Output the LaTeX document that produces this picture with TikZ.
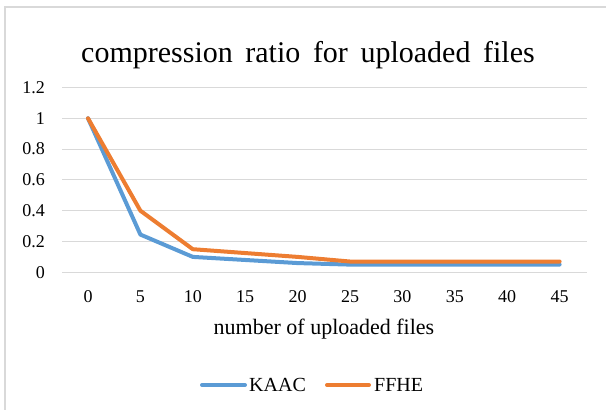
\documentclass[tikz,border=0pt]{standalone}
\usepackage{fontspec}
\setmainfont{Liberation Serif}
\definecolor{kaac}{HTML}{5B9BD5}
\definecolor{ffhe}{HTML}{ED7D31}
\definecolor{gridc}{HTML}{D9D9D9}
\begin{document}
\begin{tikzpicture}[x=1pt,y=-1pt,
  gridline/.style={draw=gridc,line width=1pt},
  frameline/.style={draw=gridc,line width=2pt},
  serie/.style={line width=4pt,line join=round,line cap=round},
  ticklab/.style={font=\fontsize{18}{18}\selectfont,inner sep=0pt},
  axlab/.style={font=\fontsize{22}{22}\selectfont,inner sep=0pt},
  leglab/.style={font=\fontsize{20}{20}\selectfont,inner sep=0pt,anchor=base west}]
\useasboundingbox (0,0) rectangle (606,410);
% frame
\draw[frameline] (5,410) -- (5,7) -- (606,7);
% title
\node[font=\fontsize{30}{30}\selectfont,inner sep=0pt,anchor=base] (title) at (308,62) {compression\hspace{0.42em}ratio\hspace{0.42em}for\hspace{0.42em}uploaded\hspace{0.42em}files};
% grid and y labels
\foreach \v/\l in {0/0,0.2/0.2,0.4/0.4,0.6/0.6,0.8/0.8,1/1,1.2/1.2}{
  \draw[gridline] (62,{272.3-154*\v}) -- (587,{272.3-154*\v});
  \node[ticklab,anchor=east] (y\l) at (45,{272.3-154*\v}) {\l};
}
% x labels
\foreach \i in {0,...,9}{
  \pgfmathtruncatemacro{\lab}{5*\i}
  \node[ticklab,anchor=base] (x\i) at ({88+52.4*\i},302.5) {\lab};
}
\node[axlab,anchor=base] (xtitle) at (324,334) {number of uploaded files};
% series
\draw[serie,kaac] (88,{272.3-154*1})
  \foreach \i/\v in {1/0.245,2/0.10,3/0.08,4/0.06,5/0.05,6/0.05,7/0.05,8/0.05,9/0.05}{ -- ({88+52.4*\i},{272.3-154*\v}) };
\draw[serie,ffhe] (88,{272.3-154*1})
  \foreach \i/\v in {1/0.40,2/0.15,3/0.125,4/0.10,5/0.07,6/0.07,7/0.07,8/0.07,9/0.07}{ -- ({88+52.4*\i},{272.3-154*\v}) };
% legend
\coordinate (k1) at (202,385);
\coordinate (k2) at (245,385);
\coordinate (f1) at (327,385);
\coordinate (f2) at (369,385);
\draw[serie,kaac] (k1) -- (k2);
\draw[serie,ffhe] (f1) -- (f2);
\node[leglab] (kaaclab) at (249,391.5) {KAAC};
\node[leglab] (ffhelab) at (374,391.5) {FFHE};
\end{tikzpicture}
\end{document}
